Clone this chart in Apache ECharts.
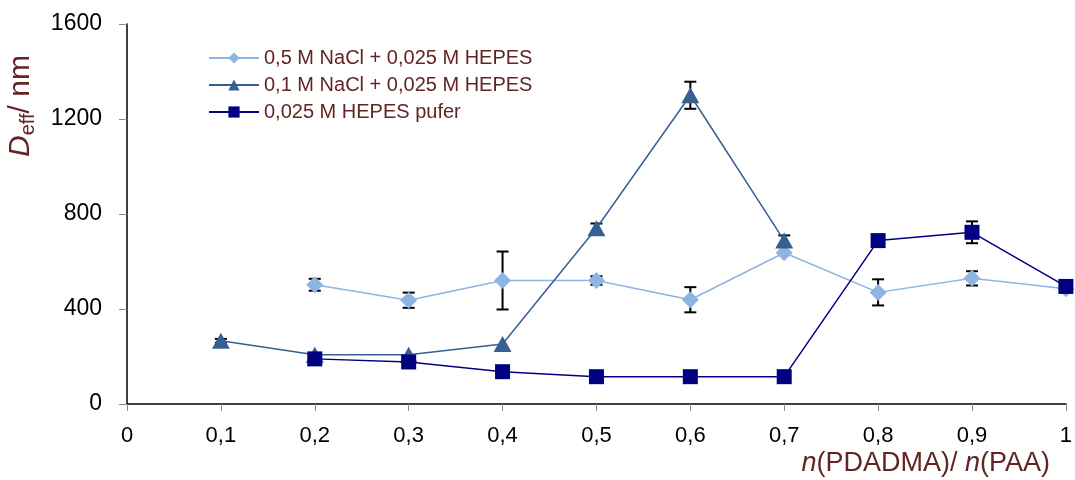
<!DOCTYPE html>
<html>
<head>
<meta charset="utf-8">
<script src="https://cdn.jsdelivr.net/npm/echarts@6/dist/echarts.min.js"></script>
<style>html,body{margin:0;padding:0;background:#fff}#c{width:1075px;height:480px}</style>
</head>
<body>
<div id="c"></div>
<script>
// ratio n(PDADMA)/n(PAA)
const ratios = [0.1, 0.2, 0.3, 0.4, 0.5, 0.6, 0.7, 0.8, 0.9, 1.0];
const seriesNames = ['0,5 M NaCl + 0,025 M HEPES', '0,1 M NaCl + 0,025 M HEPES', '0,025 M HEPES pufer'];
// D_eff / nm
const nacl05 = [null, 502, 437, 520, 520, 439, 637, 470, 529, 485];
const nacl05Err = [null, 25, 32, 122, 18, 53, 0, 55, 30, 0];
const nacl01 = [266, 207, 207, 253, 740, 1300, 688, null, null, null];
const nacl01Err = [8, 0, 0, 0, 20, 57, 22, null, null, null];
const hepes = [null, 190, 177, 136, 115, 115, 115, 688, 723, 495];
const hepesErr = [null, 0, 0, 0, 0, 0, 0, 0, 46, 0];
const yTicks = [0, 400, 800, 1200, 1600];

function pts(vals) {
  const out = [];
  ratios.forEach((x, i) => { if (vals[i] != null) out.push([x, vals[i]]); });
  return out;
}
function errPts(vals, errs) {
  const out = [];
  ratios.forEach((x, i) => { if (vals[i] != null && errs[i]) out.push([x, vals[i], errs[i]]); });
  return out;
}
function errRender(params, api) {
  const x = api.value(0), y = api.value(1), e = api.value(2);
  const top = api.coord([x, y + e]);
  const bot = api.coord([x, y - e]);
  const hw = 6;
  const style = { stroke: '#000', lineWidth: 2 };
  return {
    type: 'group',
    children: [
      { type: 'line', shape: { x1: top[0], y1: top[1], x2: bot[0], y2: bot[1] }, style },
      { type: 'line', shape: { x1: top[0] - hw, y1: top[1], x2: top[0] + hw, y2: top[1] }, style },
      { type: 'line', shape: { x1: bot[0] - hw, y1: bot[1], x2: bot[0] + hw, y2: bot[1] }, style }
    ]
  };
}

const colors = ['#8DB4E2', '#366092', '#000080'];
const chart = echarts.init(document.getElementById('c'), null, { renderer: 'canvas' });
const fontFamily = 'Liberation Sans, Arial, sans-serif';
chart.setOption({
  animation: false,
  textStyle: { fontFamily },
  grid: { left: 127, right: 7, top: 24, bottom: 76, containLabel: false },
  legend: {
    orient: 'vertical', left: 203, top: 43, itemWidth: 50, itemHeight: 14, itemGap: 7,
    data: seriesNames,
    textStyle: { color: '#632523', fontSize: 20, fontFamily }
  },
  xAxis: {
    type: 'value', min: 0, max: 1, interval: 0.1,
    axisLine: { show: true, lineStyle: { color: '#000', width: 1.5 } },
    axisTick: { show: true, length: 7, lineStyle: { color: '#888' } },
    splitLine: { show: false },
    axisLabel: {
      color: '#000', fontSize: 22, margin: 21,
      formatter: v => (Math.round(v * 10) / 10).toString().replace('.', ',')
    }
  },
  yAxis: {
    type: 'value', min: yTicks[0], max: yTicks[yTicks.length - 1], interval: 400,
    axisLine: { show: true, lineStyle: { color: '#000', width: 1.5 } },
    axisTick: { show: true, length: 8, lineStyle: { color: '#888' } },
    splitLine: { show: false },
    axisLabel: { color: '#000', fontSize: 23, margin: 25, padding: [4, 0, 0, 0], formatter: v => String(v) }
  },
  graphic: [
    {
      type: 'text', x: 38, y: 157, rotation: Math.PI / 2,
      style: {
        text: '{d|D}{s|eff}{n|/ nm}',
        rich: {
          d: { fontSize: 30, fontStyle: 'italic', fill: '#632523', fontFamily },
          s: { fontSize: 20, fill: '#632523', fontFamily, padding: [15, 0, 0, 0] },
          n: { fontSize: 30, fill: '#632523', fontFamily }
        },
        verticalAlign: 'bottom'
      }
    },
    {
      type: 'text', right: 25, top: 450,
      style: {
        text: '{i|n}{r|(PDADMA)/ }{i|n}{r|(PAA)}',
        rich: {
          i: { fontSize: 27, fontStyle: 'italic', fill: '#632523', fontFamily },
          r: { fontSize: 27, fill: '#632523', fontFamily }
        }
      }
    }
  ],
  series: [
    {
      name: seriesNames[0], type: 'line', data: pts(nacl05), z: 3,
      symbol: 'diamond', symbolSize: 17,
      itemStyle: { color: colors[0] }, lineStyle: { color: colors[0], width: 1.5 }
    },
    {
      name: seriesNames[1], type: 'line', data: pts(nacl01), z: 4,
      symbol: 'triangle', symbolSize: [18, 16],
      itemStyle: { color: colors[1] }, lineStyle: { color: colors[1], width: 1.5 }
    },
    {
      name: seriesNames[2], type: 'line', data: pts(hepes), z: 5,
      symbol: 'rect', symbolSize: 15,
      itemStyle: { color: colors[2] }, lineStyle: { color: colors[2], width: 1.5 }
    },
    { type: 'custom', renderItem: errRender, data: errPts(nacl05, nacl05Err), z: 2, encode: { x: 0, y: 1 } },
    { type: 'custom', renderItem: errRender, data: errPts(nacl01, nacl01Err), z: 2, encode: { x: 0, y: 1 } },
    { type: 'custom', renderItem: errRender, data: errPts(hepes, hepesErr), z: 2, encode: { x: 0, y: 1 } }
  ]
});
</script>
</body>
</html>
